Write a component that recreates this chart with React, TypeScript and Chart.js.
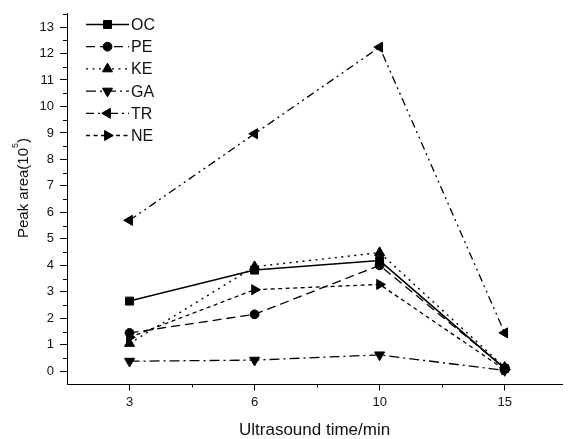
import React, { useEffect, useRef } from 'react';
import { Chart, registerables } from 'chart.js';

Chart.register(...registerables);

// ---- data ----
const categories = ['3', '6', '10', '15'];
const ocValues = [2.65, 3.82, 4.18, 0.1];
const peValues = [1.45, 2.15, 4.0, 0.12];
const keValues = [1.05, 3.95, 4.48, 0.15];
const gaValues = [0.38, 0.42, 0.62, 0.03];
const trValues = [5.7, 8.97, 12.24, 1.45];
const neValues = [1.28, 3.08, 3.28, 0.06];
const seriesNames = ['OC', 'PE', 'KE', 'GA', 'TR', 'NE'];
const yTickValues = [0, 1, 2, 3, 4, 5, 6, 7, 8, 9, 10, 11, 12, 13];
const yTickLabels = ['0', '1', '2', '3', '4', '5', '6', '7', '8', '9', '10', '11', '12', '13'];
const xTitle = 'Ultrasound time/min';
const yTitleMain = 'Peak area(10';
const yTitleSup = '5';
const yTitleEnd = ')';

const FONT = '"Liberation Sans", Arial, Helvetica, sans-serif';

type Style = { shape: string; rotation: number; radius: number; dash: number[]; width: number };
const styles: Style[] = [
  { shape: 'rect', rotation: 0, radius: 5.6, dash: [], width: 1.5 },
  { shape: 'circle', rotation: 0, radius: 4.4, dash: [9, 5], width: 1.3 },
  { shape: 'triangle', rotation: 0, radius: 5.8, dash: [2, 4.5], width: 1.4 },
  { shape: 'triangle', rotation: 180, radius: 5.8, dash: [10, 4, 2, 4], width: 1.3 },
  { shape: 'triangle', rotation: -90, radius: 5.8, dash: [8, 4, 2, 4, 2, 4], width: 1.3 },
  { shape: 'triangle', rotation: 90, radius: 5.8, dash: [4, 3.5], width: 1.3 },
];
const seriesValues = [ocValues, peValues, keValues, gaValues, trValues, neValues];

function drawMarker(ctx: CanvasRenderingContext2D, st: Style, x: number, y: number) {
  ctx.beginPath();
  if (st.shape === 'rect') {
    const s = st.radius * Math.SQRT1_2;
    ctx.rect(x - s, y - s, 2 * s, 2 * s);
  } else if (st.shape === 'circle') {
    ctx.arc(x, y, st.radius, 0, Math.PI * 2);
  } else {
    let rad = (st.rotation * Math.PI) / 180;
    for (let i = 0; i < 3; i++) {
      const px = x + Math.sin(rad) * st.radius;
      const py = y - Math.cos(rad) * st.radius;
      if (i === 0) ctx.moveTo(px, py);
      else ctx.lineTo(px, py);
      rad += (2 * Math.PI) / 3;
    }
    ctx.closePath();
  }
  ctx.fill();
  ctx.stroke();
}

const decorPlugin = {
  id: 'decor',
  afterDraw(chart: any) {
    const ctx: CanvasRenderingContext2D = chart.ctx;
    const xs = chart.scales.x;
    const ys = chart.scales.y;
    ctx.save();
    ctx.strokeStyle = '#000';
    ctx.lineWidth = 1;
    ctx.setLineDash([]);
    // minor ticks x
    for (let i = 0; i < categories.length; i++) {
      const v = i + 0.5;
      if (v > xs.max) break;
      const px = Math.round(xs.getPixelForValue(v)) + 0.5;
      ctx.beginPath();
      ctx.moveTo(px, xs.top);
      ctx.lineTo(px, xs.top + 3);
      ctx.stroke();
    }
    // minor ticks y
    for (const v0 of yTickValues) {
      const v = v0 + 0.5;
      if (v > ys.max + 1e-6) break;
      const py = Math.round(ys.getPixelForValue(v)) + 0.5;
      ctx.beginPath();
      ctx.moveTo(ys.right - 4, py);
      ctx.lineTo(ys.right, py);
      ctx.stroke();
    }
    // y title with superscript
    ctx.fillStyle = '#111';
    ctx.textBaseline = 'alphabetic';
    const mainFont = `15px ${FONT}`;
    const supFont = `9px ${FONT}`;
    ctx.font = mainFont;
    const w1 = ctx.measureText(yTitleMain).width;
    const w3 = ctx.measureText(yTitleEnd).width;
    ctx.font = supFont;
    const w2 = ctx.measureText(yTitleSup).width;
    const total = w1 + w2 + w3;
    ctx.translate(28, 188);
    ctx.rotate(-Math.PI / 2);
    ctx.font = mainFont;
    ctx.fillText(yTitleMain, -total / 2, 0);
    ctx.font = supFont;
    ctx.fillText(yTitleSup, -total / 2 + w1, -10);
    ctx.font = mainFont;
    ctx.fillText(yTitleEnd, -total / 2 + w1 + w2, 0);
    ctx.restore();

    // legend
    ctx.save();
    const x0 = 86;
    const x1 = 129;
    const xm = (x0 + x1) / 2;
    seriesNames.forEach((name, i) => {
      const st = styles[i];
      const yy = 24.5 + i * 22.2;
      ctx.strokeStyle = '#000';
      ctx.fillStyle = '#000';
      ctx.lineWidth = st.width;
      ctx.setLineDash(st.dash);
      ctx.beginPath();
      ctx.moveTo(x0, yy);
      ctx.lineTo(x1, yy);
      ctx.stroke();
      ctx.setLineDash([]);
      ctx.lineWidth = 1;
      drawMarker(ctx, st, xm, yy);
      ctx.font = `16px ${FONT}`;
      ctx.textBaseline = 'middle';
      ctx.fillStyle = '#111';
      ctx.fillText(name, 131, yy + 1);
    });
    ctx.restore();
  },
};

export default function App() {
  const ref = useRef<HTMLCanvasElement | null>(null);
  useEffect(() => {
    if (!ref.current) return;
    const datasets = seriesNames.map((name, i) => {
      const st = styles[i];
      return {
        label: name,
        data: seriesValues[i].map((v, j) => ({ x: j, y: v })),
        borderColor: '#000',
        backgroundColor: '#000',
        borderWidth: st.width,
        borderDash: st.dash,
        pointStyle: st.shape,
        rotation: st.rotation,
        pointRadius: st.radius,
        pointBorderWidth: 1,
        pointBorderColor: '#000',
        pointBackgroundColor: '#000',
        tension: 0,
        fill: false,
      };
    });
    const chart = new Chart(ref.current, {
      type: 'line',
      data: { datasets },
      plugins: [decorPlugin],
      options: {
        responsive: false,
        animation: false,
        layout: { padding: { top: 8, right: 0, bottom: 0, left: 0 } },
        plugins: { legend: { display: false }, tooltip: { enabled: false } },
        scales: {
          x: {
            type: 'linear',
            min: -0.5,
            max: 3.46,
            afterBuildTicks: (scale: any) => {
              scale.ticks = categories.map((_, i) => ({ value: i }));
            },
            afterFit: (scale: any) => {
              scale.height = 54.5;
            },
            ticks: {
              autoSkip: false,
              maxRotation: 0,
              padding: 4,
              color: '#111',
              font: { family: FONT, size: 13 },
              callback: (v: any) => categories[Math.round(Number(v))] ?? '',
            },
            grid: { drawOnChartArea: false, drawTicks: true, tickLength: 6, color: '#000', lineWidth: 1 },
            border: { display: true, color: '#000', width: 1 },
            title: {
              display: true,
              text: xTitle,
              color: '#111',
              font: { family: FONT, size: 17, lineHeight: 1 },
              padding: { top: 0, bottom: 0 },
            },
          },
          y: {
            type: 'linear',
            min: -0.5,
            max: 13.5,
            afterBuildTicks: (scale: any) => {
              scale.ticks = yTickValues.map((v) => ({ value: v }));
            },
            afterFit: (scale: any) => {
              scale.width = 67;
            },
            ticks: {
              autoSkip: false,
              padding: 6,
              color: '#111',
              font: { family: FONT, size: 13 },
              callback: (v: any) => {
                const idx = yTickValues.indexOf(Number(v));
                return idx >= 0 ? yTickLabels[idx] : '';
              },
            },
            grid: { drawOnChartArea: false, drawTicks: true, tickLength: 7, color: '#000', lineWidth: 1 },
            border: { display: true, color: '#000', width: 1 },
          },
        },
      },
    } as any);
    return () => chart.destroy();
  }, []);
  return (
    <div style={{ position: 'absolute', left: 0, top: 0, width: 569, height: 439, background: '#fff' }}>
      <canvas ref={ref} width={569} height={439} style={{ width: 569, height: 439, display: 'block' }} />
    </div>
  );
}
